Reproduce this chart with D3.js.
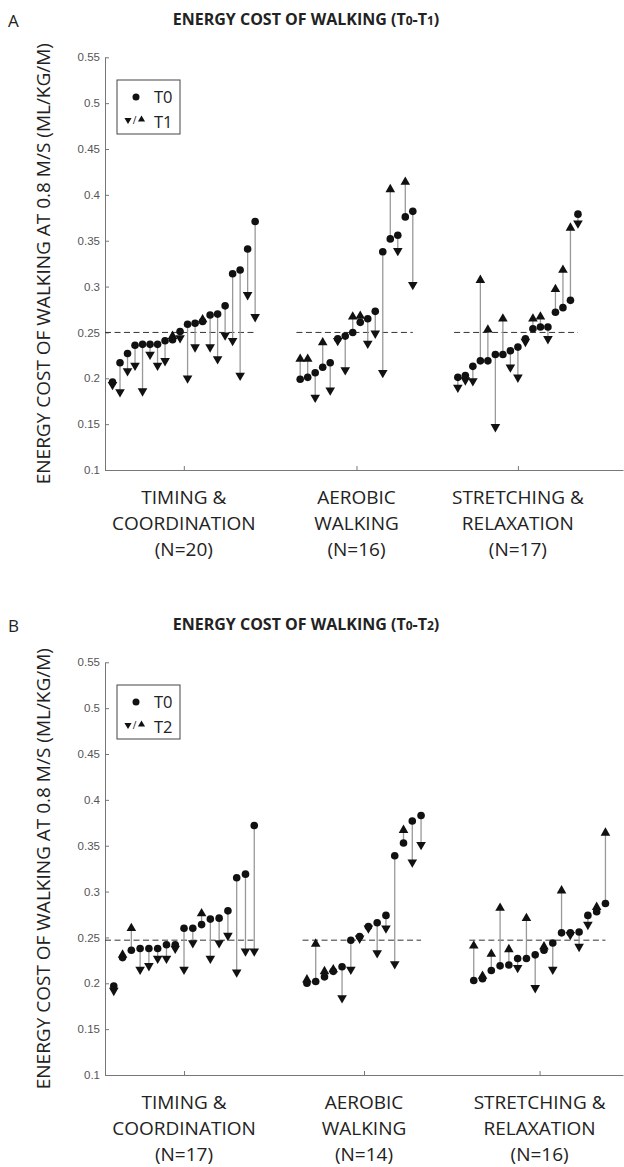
<!DOCTYPE html>
<html>
<head>
<meta charset="utf-8">
<script src="https://cdn.jsdelivr.net/npm/d3@7"></script>
<style>
  body { margin: 0; background: #fff; }
  svg text { fill: #222; }
</style>
</head>
<body>
<div id="chart"></div>
<script>
const groupLabels = [['TIMING &', 'COORDINATION'], ['AEROBIC', 'WALKING'], ['STRETCHING &', 'RELAXATION']]
const yTicks = [0.1, 0.15, 0.2, 0.25, 0.3, 0.35, 0.4, 0.45, 0.5, 0.55]

// panel A : T0 -> T1
const timingT0a = [0.196, 0.217, 0.227, 0.236, 0.237, 0.237, 0.237, 0.241, 0.242, 0.251, 0.259, 0.260, 0.262, 0.269, 0.270, 0.279, 0.314, 0.318, 0.341, 0.371]
const timingT1a = [0.193, 0.185, 0.208, 0.214, 0.186, 0.226, 0.214, 0.219, 0.246, 0.244, 0.200, 0.234, 0.264, 0.234, 0.221, 0.247, 0.241, 0.203, 0.291, 0.267]
const aerobicT0a = [0.199, 0.201, 0.206, 0.212, 0.217, 0.243, 0.246, 0.250, 0.261, 0.265, 0.273, 0.338, 0.352, 0.356, 0.376, 0.382]
const aerobicT1a = [0.221, 0.221, 0.179, 0.239, 0.187, 0.241, 0.209, 0.267, 0.268, 0.238, 0.249, 0.206, 0.406, 0.339, 0.414, 0.302]
const stretchT0a = [0.201, 0.203, 0.213, 0.219, 0.219, 0.226, 0.226, 0.230, 0.234, 0.243, 0.254, 0.256, 0.256, 0.272, 0.277, 0.285, 0.379]
const stretchT1a = [0.190, 0.198, 0.197, 0.307, 0.253, 0.147, 0.265, 0.212, 0.201, 0.240, 0.265, 0.267, 0.243, 0.297, 0.318, 0.364, 0.369]

// panel B : T0 -> T2
const timingT0b = [0.197, 0.228, 0.236, 0.238, 0.238, 0.238, 0.242, 0.242, 0.260, 0.260, 0.264, 0.270, 0.271, 0.279, 0.315, 0.319, 0.372]
const timingT2b = [0.192, 0.231, 0.260, 0.215, 0.219, 0.227, 0.227, 0.238, 0.215, 0.244, 0.276, 0.227, 0.244, 0.252, 0.212, 0.235, 0.235]
const aerobicT0b = [0.200, 0.202, 0.207, 0.213, 0.218, 0.247, 0.251, 0.262, 0.266, 0.274, 0.339, 0.353, 0.377, 0.383]
const aerobicT2b = [0.204, 0.243, 0.213, 0.215, 0.184, 0.215, 0.249, 0.260, 0.233, 0.260, 0.221, 0.367, 0.332, 0.351]
const stretchT0b = [0.203, 0.205, 0.214, 0.219, 0.220, 0.227, 0.227, 0.231, 0.236, 0.244, 0.255, 0.255, 0.256, 0.274, 0.278, 0.287]
const stretchT2b = [0.241, 0.208, 0.232, 0.282, 0.237, 0.217, 0.271, 0.195, 0.240, 0.215, 0.301, 0.253, 0.240, 0.264, 0.283, 0.364]

const refA = 0.25
const refB = 0.247

const width = 624, height = 1167
const gap = 5  // empty slots between groups

const svg = d3.select('#chart').append('svg')
  .attr('width', width)
  .attr('height', height)
  .style('font-family', '"Open Sans", sans-serif')

const panels = [{
  letter: 'A', dy: 0, later: '1', xMax: 69, ref: refA,
  groups: [[timingT0a, timingT1a], [aerobicT0a, aerobicT1a], [stretchT0a, stretchT1a]]
}, {
  letter: 'B', dy: 605, later: '2', xMax: 59, ref: refB,
  groups: [[timingT0b, timingT2b], [aerobicT0b, aerobicT2b], [stretchT0b, stretchT2b]]
}]

const tri = d3.symbol().type(d3.symbolTriangle)

panels.forEach(p => {
  const g = svg.append('g').attr('transform', `translate(0,${p.dy})`)

  let start = 1
  const groups = p.groups.map(([t0, t1], i) => {
    const pts = t0.map((v, j) => ({ idx: start + j, t0: v, t1: t1[j] }))
    const grp = { pts, first: start, last: start + t0.length - 1, n: t0.length, label: groupLabels[i], i }
    start += t0.length + gap
    return grp
  })

  const x = d3.scaleLinear().domain([0, p.xMax]).range([105, 623])
  const y = d3.scaleLinear().domain([0.1, 0.55]).range([470, 57.3])

  // axes
  const yAxis = g.append('g')
    .attr('transform', `translate(${x(0)},0)`)
    .call(d3.axisLeft(y).tickValues(yTicks).tickFormat(d => String(d)).tickSize(-4).tickSizeOuter(0).tickPadding(5))
  yAxis.select('.domain').attr('stroke', '#777')
  yAxis.selectAll('.tick line').attr('stroke', '#777')
  yAxis.selectAll('.tick text')
    .style('font-family', '"Liberation Sans", Arial, sans-serif')
    .style('font-size', '11.5px')
    .style('fill', '#555')

  const centers = groups.map(d => (d.first + d.last) / 2)
  const xAxis = g.append('g')
    .attr('transform', `translate(0,${y(0.1)})`)
    .call(d3.axisBottom(x).tickValues(centers).tickFormat('').tickSize(-4).tickSizeOuter(0))
  xAxis.select('.domain').attr('stroke', '#777')
  xAxis.selectAll('.tick line').attr('stroke', '#777')

  // category labels
  groups.forEach(d => {
    const t = g.append('text')
      .attr('text-anchor', 'middle')
      .style('font-size', '19px')
    d.label.concat([`(N=${d.n})`]).forEach((line, k) => {
      t.append('tspan')
        .attr('x', x(centers[d.i]))
        .attr('y', 504 + k * 26)
        .text(line)
    })
  })

  // reference dashed line per group
  g.append('g').selectAll('line')
    .data(groups)
    .join('line')
    .attr('x1', d => x(d.i === 0 ? d.first - 1 : d.first - 0.5))
    .attr('x2', d => x(d.last))
    .attr('y1', y(p.ref))
    .attr('y2', y(p.ref))
    .attr('stroke', '#333')
    .attr('stroke-width', 1)
    .attr('stroke-dasharray', '6,3.5')

  const pts = groups.flatMap(d => d.pts)

  g.append('g').selectAll('line')
    .data(pts)
    .join('line')
    .attr('x1', d => x(d.idx))
    .attr('x2', d => x(d.idx))
    .attr('y1', d => y(d.t0))
    .attr('y2', d => y(d.t1))
    .attr('stroke', '#999')
    .attr('stroke-width', 1.3)

  g.append('g').selectAll('path')
    .data(pts)
    .join('path')
    .attr('d', tri.size(40))
    .attr('transform', d => `translate(${x(d.idx)},${y(d.t1)}) rotate(${d.t1 > d.t0 ? 0 : 180})`)
    .attr('fill', '#111')

  g.append('g').selectAll('circle')
    .data(pts)
    .join('circle')
    .attr('cx', d => x(d.idx))
    .attr('cy', d => y(d.t0))
    .attr('r', 3.8)
    .attr('fill', '#111')

  // y title
  g.append('text')
    .attr('transform', `translate(50,${(y(0.1) + y(0.55)) / 2}) rotate(-90)`)
    .attr('text-anchor', 'middle')
    .style('font-size', '19px')
    .text('ENERGY COST OF WALKING AT 0.8 M/S (ML/KG/M)')

  // panel letter + title
  g.append('text')
    .attr('x', 8)
    .attr('y', 27)
    .style('font-size', '17px')
    .text(p.letter)

  const title = g.append('text')
    .attr('x', 306)
    .attr('y', 25)
    .attr('text-anchor', 'middle')
    .style('font-size', '16px')
    .style('font-weight', 'bold')
  title.append('tspan').text('ENERGY COST OF WALKING (T')
  title.append('tspan').style('font-size', '12px').text('0')
  title.append('tspan').text('-T')
  title.append('tspan').style('font-size', '12px').text(p.later)
  title.append('tspan').text(')')

  // legend
  const lg = g.append('g')
  lg.append('rect')
    .attr('x', 117).attr('y', 80)
    .attr('width', 63).attr('height', 54)
    .attr('fill', '#fff')
    .attr('stroke', '#444')
  lg.append('circle').attr('cx', 136).attr('cy', 97).attr('r', 3.5).attr('fill', '#111')
  lg.append('text').attr('x', 154).attr('y', 103).style('font-size', '16.5px').text('T0')
  lg.append('path').attr('d', tri.size(22)).attr('transform', 'translate(128,120) rotate(180)').attr('fill', '#111')
  lg.append('text').attr('x', 134.5).attr('y', 124).attr('text-anchor', 'middle').style('font-size', '10px').text('/')
  lg.append('path').attr('d', tri.size(22)).attr('transform', 'translate(141.5,119.5)').attr('fill', '#111')
  lg.append('text').attr('x', 154).attr('y', 128).style('font-size', '16.5px').text('T' + p.later)
})
</script>
</body>
</html>
